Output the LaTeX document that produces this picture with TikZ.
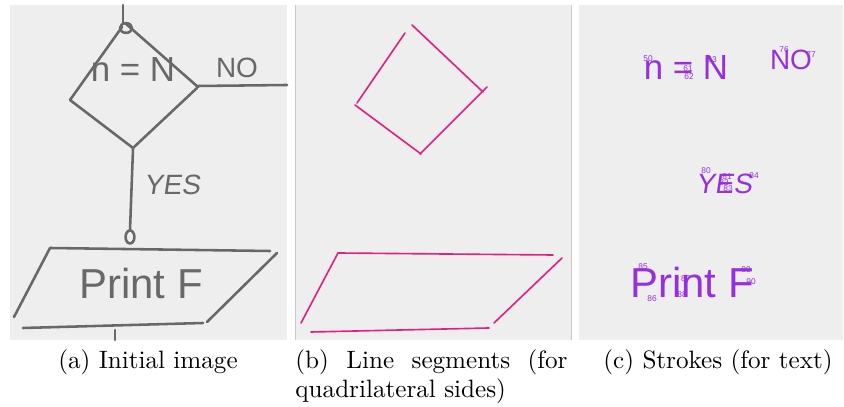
\documentclass[tikz,border=0pt]{standalone}
\usepackage{fontspec}
\usepackage{tikz}
\newfontfamily\handfont{Liberation Sans}
\definecolor{panelgray}{RGB}{238,238,238}
\definecolor{pengray}{RGB}{104,104,104}
\definecolor{edgegray}{RGB}{200,200,200}
\definecolor{segpink}{RGB}{226,32,132}
\definecolor{inkviolet}{RGB}{150,48,222}

\begin{document}
\begin{tikzpicture}[x=0.43pt, y=-0.43pt,
  pen/.style={draw=pengray, line width=1.1pt, line cap=round, line join=round},
  seg/.style={draw=segpink, line width=0.7pt, line cap=round},
  hand/.style={font=\handfont\fontsize{#1}{#1}\selectfont, inner sep=0pt},
  tag/.style={font=\handfont\fontsize{3.6}{4}\selectfont, text=inkviolet, inner sep=0pt},
  caption/.style={font=\fontsize{10.8}{12.1}\selectfont, inner sep=0pt, anchor=base}]
  \useasboundingbox (0,0) rectangle (844,407);

  % panel backgrounds
  \fill[panelgray] (10,5) rectangle (287,340);
  \fill[panelgray] (295,5) rectangle (572,340);
  \fill[panelgray] (579,5) rectangle (843,340);
  \draw[edgegray, line width=0.5pt] (295.5,5) -- (295.5,340);
  \draw[edgegray, line width=0.5pt] (571.5,5) -- (571.5,340);

  % (a) initial image
  \draw[pen] (123,5) -- (123,23);
  \draw[pen] (126,28) ellipse[x radius=2.6pt, y radius=2.1pt];
  \draw[pen] (125,23) -- (198,87);
  \draw[pen] (122,27) -- (70,100) -- (133,148) -- (197,88);
  \draw[pen] (198,86) -- (287,85);
  \draw[pen] (133,149) -- (130,230);
  \draw[pen] (130,237) ellipse[x radius=1.9pt, y radius=2.8pt];
  \draw[pen] (50,248) -- (270,251);
  \draw[pen] (50,248) -- (14,317);
  \draw[pen] (277,253) -- (207,322);
  \draw[pen] (23,328) -- (203,323);
  \draw[pen] (115,330) -- (115,340);
  \node[hand=15, text=pengray] (condA) at (133,70) {n = N};
  \node[hand=12, text=pengray] (noA) at (237,68) {NO};
  \node[hand=12, text=pengray] (yesA) at (172,185) {\addfontfeature{FakeSlant=0.15}YES};
  \node[hand=18, text=pengray] (printA) at (141,284) {Print F};

  % (b) line segments
  \draw[seg] (405,33) -- (357,103);
  \draw[seg] (412,25) -- (483,92);
  \draw[seg] (487,87) -- (420,154);
  \draw[seg] (355,105) -- (421,154);
  \draw[seg] (338,253) -- (553,255);
  \draw[seg] (338,253) -- (301,323);
  \draw[seg] (562,258) -- (494,323);
  \draw[seg] (311,332) -- (489,328);

  % (c) strokes
  \node[hand=15, text=inkviolet] (condC) at (686,68) {n = N};
  \node[hand=12, text=inkviolet] (noC) at (791,60) {NO};
  \node[hand=12, text=inkviolet] (yesC) at (724,184) {\addfontfeature{FakeSlant=0.15}YES};
  \node[hand=18, text=inkviolet] (printC) at (692,283) {Print F};
  \node[tag] (t50) at (648,59) {50};
  \node[tag] (t61) at (688,69) {61};
  \node[tag] (t62) at (689,77) {62};
  \node[tag] (t63) at (712,60) {63};
  \node[tag] (t76) at (784,50) {76};
  \node[tag] (t77) at (811,55) {77};
  \node[tag] (t80) at (706,171) {80};
  \node[tag] (t81) at (727,177) {81};
  \node[tag] (t82) at (724,183) {82};
  \node[tag] (t83) at (728,189) {83};
  \node[tag] (t84) at (754,176) {84};
  \node[tag] (t85) at (643,267) {85};
  \node[tag] (t86) at (652,299) {86};
  \node[tag] (t87) at (683,279) {$\cdot$87};
  \node[tag] (t88) at (682,295) {88};
  \node[tag] (t89) at (746,270) {89};
  \node[tag] (t90) at (751,282) {90};

  % captions
  \node[caption] (capA) at (148,369) {(a) Initial image};
  \node[caption, anchor=base west, text width=117pt, align=justify] (capB) at (295,369)
    {\hyphenpenalty=10000 (b) Line segments (for quadrilateral sides)};
  \node[caption] (capC) at (718,369) {(c) Strokes (for text)};
\end{tikzpicture}
\end{document}
